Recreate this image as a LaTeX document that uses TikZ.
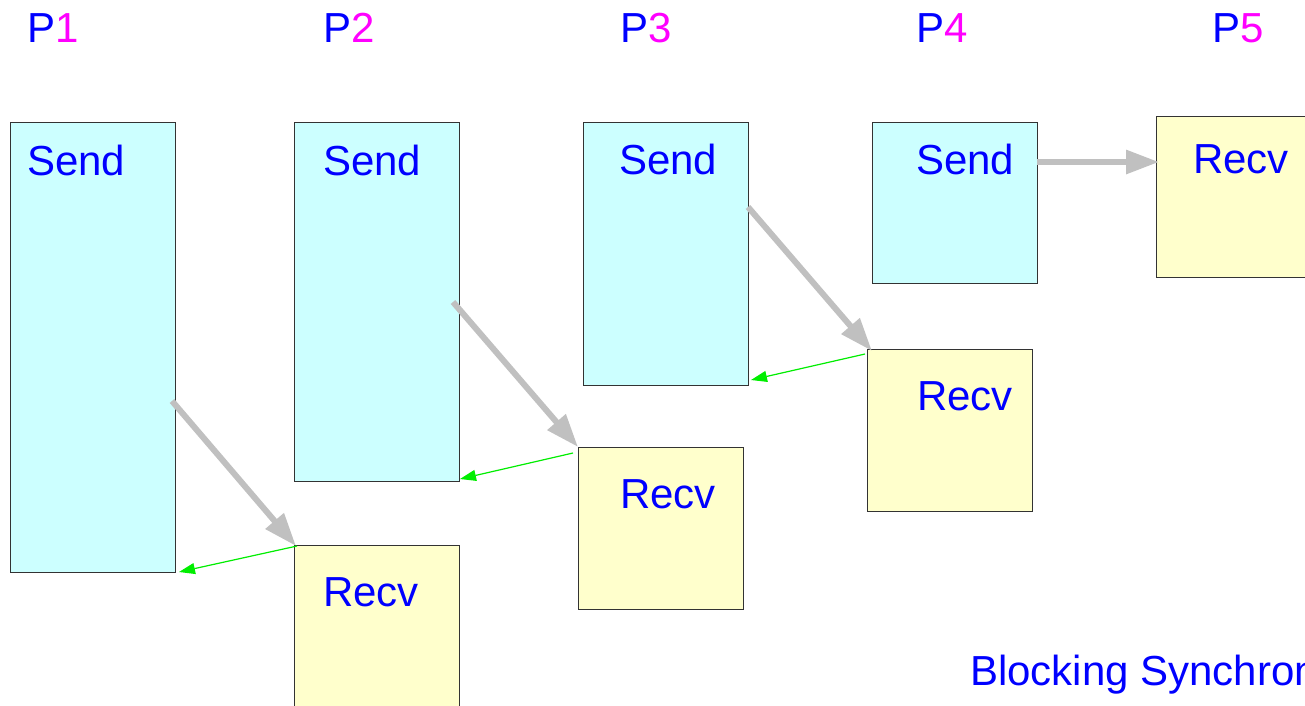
\documentclass[tikz,border=0pt]{standalone}
\usepackage{fontspec}
\setmainfont{Liberation Sans}
\usetikzlibrary{arrows.meta,calc}
\definecolor{sendfill}{HTML}{CCFFFF}
\definecolor{recvfill}{HTML}{FFFFCC}
\definecolor{txtblue}{HTML}{0000FF}
\definecolor{txtmag}{HTML}{FF00FF}
\definecolor{msggray}{HTML}{C0C0C0}
\definecolor{ackgreen}{HTML}{00EE00}
\definecolor{edgecol}{HTML}{333333}
\begin{document}
\begin{tikzpicture}[x=1pt,y=-1pt,
  box/.style={draw=edgecol,line width=1pt,inner sep=0pt,outer sep=0pt,anchor=north west},
  sendbox/.style={box,fill=sendfill},
  recvbox/.style={box,fill=recvfill},
  lbl/.style={inner sep=0pt,anchor=base west,text=txtblue,font=\fontsize{42}{50}\selectfont},
  msg/.style={draw=msggray,line width=6pt,-{Triangle[length=33pt,width=23pt]}},
  ack/.style={draw=ackgreen,line width=1.2pt,-{Triangle[length=16pt,width=11pt]}}]
\useasboundingbox (0,0) rectangle (1305,705);
\clip (0,0) rectangle (1305,705);
\fill[white] (0,0) rectangle (1305,705);

% process labels
\node[lbl] (p1) at (27,42) {P\textcolor{txtmag}{1}};
\node[lbl] (p2) at (323,42) {P\textcolor{txtmag}{2}};
\node[lbl] (p3) at (620,42) {P\textcolor{txtmag}{3}};
\node[lbl] (p4) at (916,42) {P\textcolor{txtmag}{4}};
\node[lbl] (p5) at (1212,42) {P\textcolor{txtmag}{5}};

% boxes
\node[sendbox,minimum width=165pt,minimum height=450pt] (s1) at (10,122) {};
\node[sendbox,minimum width=165pt,minimum height=359pt] (s2) at (294,122) {};
\node[sendbox,minimum width=165pt,minimum height=263pt] (s3) at (583,122) {};
\node[sendbox,minimum width=165pt,minimum height=161pt] (s4) at (872,122) {};
\node[recvbox,minimum width=165pt,minimum height=161pt] (r5) at (1156,116) {};
\node[recvbox,minimum width=165pt,minimum height=162pt] (r4) at (867,349) {};
\node[recvbox,minimum width=165pt,minimum height=162pt] (r3) at (578,447) {};
\node[recvbox,minimum width=165pt,minimum height=162pt] (r2) at (294,545) {};

% box texts
\node[lbl] (ts1) at (27,175) {Send};
\node[lbl] (ts2) at (323,175) {Send};
\node[lbl] (ts3) at (619,174) {Send};
\node[lbl] (ts4) at (916,174) {Send};
\node[lbl] (tr5) at (1193,173) {Recv};
\node[lbl] (tr4) at (917,410) {Recv};
\node[lbl] (tr3) at (620,508) {Recv};
\node[lbl] (tr2) at (323,606) {Recv};

% message arrows
\draw[msg] ([xshift=-3pt,yshift=-279pt]s1.north east) -- ([xshift=2pt,yshift=-1pt]r2.north west);
\draw[msg] ([xshift=-6pt,yshift=-180pt]s2.north east) -- (r3.north west);
\draw[msg] ([yshift=-85pt]s3.north east) -- ([xshift=5pt,yshift=-2pt]r4.north west);
\draw[msg] ([yshift=-40pt]s4.north east) -- ([xshift=3pt,yshift=-46pt]r5.north west);

% acknowledgements
\draw[ack] ([xshift=3pt,yshift=-1pt]r2.north west) -- ([xshift=4pt]s1.south east);
\draw[ack] ([xshift=-5pt,yshift=-6pt]r3.north west) -- ([xshift=1pt,yshift=2pt]s2.south east);
\draw[ack] ([xshift=-2pt,yshift=-5pt]r4.north west) -- ([xshift=3pt,yshift=5pt]s3.south east);

% title
\node[lbl] (title) at (970,685) {Blocking Synchronous};
\end{tikzpicture}
\end{document}
